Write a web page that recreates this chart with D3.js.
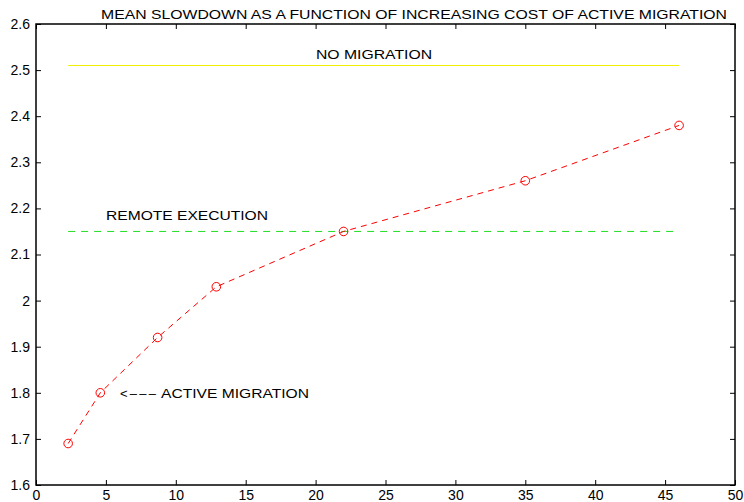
<!DOCTYPE html>
<html><head><meta charset="utf-8">
<script src="https://cdn.jsdelivr.net/npm/d3@7"></script>
<style>body{margin:0;background:#fff}svg{display:block}text{font-family:"Liberation Sans",Arial,sans-serif;fill:#000}</style>
</head><body><svg id="c" width="744" height="502"></svg>
<script>
const costX = [2.3, 4.6, 8.7, 12.9, 22, 35, 46];
const slowdown = [1.69, 1.80, 1.92, 2.03, 2.15, 2.26, 2.38];
const noMigration = 2.51;
const remoteExecution = 2.15;
const refRange = [2.3, 46];
const xTicks = [0,5,10,15,20,25,30,35,40,45,50];
const yTicks = [1.6,1.7,1.8,1.9,2,2.1,2.2,2.3,2.4,2.5,2.6];
const title = "MEAN SLOWDOWN AS A FUNCTION OF INCREASING COST OF ACTIVE MIGRATION";

const svg = d3.select("#c");
const L=36,R=735,T=24,B=485;
const x = d3.scaleLinear().domain([0,50]).range([L,R]);
const y = d3.scaleLinear().domain([1.6,2.6]).range([B,T]);
const fs = 13;

svg.append("rect").attr("x",L).attr("y",T).attr("width",R-L).attr("height",B-T)
  .attr("fill","none").attr("stroke","#000").attr("stroke-width",1.5);

const xb = svg.append("g").attr("transform",`translate(0,${B})`)
  .call(d3.axisBottom(x).tickValues(xTicks).tickSize(-5).tickPadding(5).tickFormat(d3.format("d")));
const xt = svg.append("g").attr("transform",`translate(0,${T})`)
  .call(d3.axisTop(x).tickValues(xTicks).tickSize(-5).tickFormat(""));
const yl = svg.append("g").attr("transform",`translate(${L},0)`)
  .call(d3.axisLeft(y).tickValues(yTicks).tickSize(-5).tickPadding(6).tickFormat(d=>d3.format("")(+d.toFixed(1))));
const yr = svg.append("g").attr("transform",`translate(${R},0)`)
  .call(d3.axisRight(y).tickValues(yTicks).tickSize(-5).tickFormat(""));
[xb,xt,yl,yr].forEach(g=>{g.select(".domain").remove();g.selectAll("line").attr("stroke","#000");
  g.selectAll("text").attr("font-size",14).attr("font-family","Liberation Sans, Arial, sans-serif");});

svg.append("line").attr("x1",x(refRange[0])).attr("x2",x(refRange[1]))
  .attr("y1",y(noMigration)).attr("y2",y(noMigration)).attr("stroke","#f0f000").attr("stroke-width",1);
svg.append("line").attr("x1",x(refRange[0])).attr("x2",x(refRange[1]))
  .attr("y1",y(remoteExecution)).attr("y2",y(remoteExecution)).attr("stroke","#22dd22")
  .attr("stroke-width",1).attr("stroke-dasharray","7,6");

const pts = costX.map((c,i)=>[c,slowdown[i]]);
svg.append("path").datum(pts).attr("fill","none").attr("stroke","#ff0000").attr("stroke-width",1)
  .attr("stroke-dasharray","6,5")
  .attr("d",d3.line().x(d=>x(d[0])).y(d=>y(d[1])));
svg.selectAll("circle.m").data(pts).join("circle").attr("class","m")
  .attr("cx",d=>x(d[0])).attr("cy",d=>y(d[1])).attr("r",4.3)
  .attr("fill","none").attr("stroke","#ff0000").attr("stroke-width",1);

function label(tx,ty,s,len){
  svg.append("text").attr("x",tx).attr("y",ty).attr("font-size",fs)
    .attr("textLength",len).attr("lengthAdjust","spacingAndGlyphs").text(s);
}
label(101,19,title,626);
label(316,59,"NO MIGRATION",116);
label(106,220,"REMOTE EXECUTION",162);
svg.append("text").attr("x",120).attr("y",398).attr("font-size",fs)
  .attr("textLength",36).attr("lengthAdjust","spacing").text("<\u2013\u2013\u2013");
label(161,398,"ACTIVE MIGRATION",148);
</script></body></html>
